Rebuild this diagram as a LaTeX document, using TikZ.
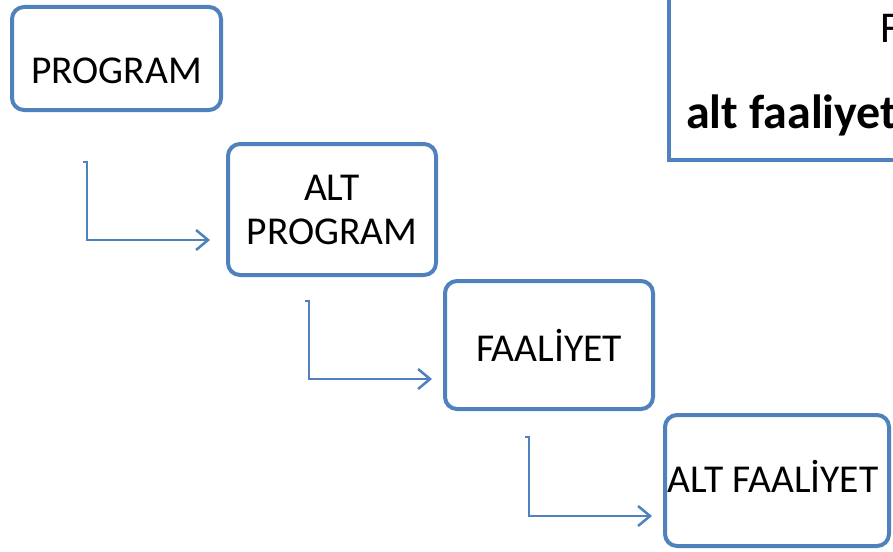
\documentclass[tikz,border=0pt]{standalone}
\usepackage{fontspec}
\setmainfont{Carlito}
\usetikzlibrary{arrows.meta}
\definecolor{boxblue}{RGB}{79,129,189}

\begin{document}
\begin{tikzpicture}[x=1pt, y=-1pt,
	box/.style={draw=boxblue, line width=4pt, rounded corners=12pt, align=center, inner sep=0pt, font=\fontsize{39.5}{44}\selectfont},
	txt/.style={inner sep=0pt, font=\fontsize{39.5}{44}\selectfont},
	link/.style={draw=boxblue, line width=2.5pt, -{Straight Barb[length=12pt,width=20pt]}}]
	
	\useasboundingbox (0,0) rectangle (893,551);
	\clip (0,0) rectangle (893,551);
	
	\node[box, minimum width=209pt, minimum height=103pt] (prog) at (116.5,58.5) {};
	\node[txt] (progtxt) at (116.5,71) {PROGRAM};
	\node[box, minimum width=208pt, minimum height=131pt] (altprog) at (332,209.5) {ALT\\PROGRAM};
	\node[box, minimum width=208pt, minimum height=128pt] (faal) at (549,345) {FAAL\.{I}YET};
	\node[box, minimum width=224pt, minimum height=131pt] (altfaal) at (777,480.5) {};
	\node[txt] (altfaaltxt) at (773,476.5) {ALT FAAL\.{I}YET};
	
	% note box, cut by the page edge
	\draw[draw=boxblue, line width=4pt] (669,-30) rectangle (1100,160);
	\node[inner sep=0pt, anchor=base west, font=\fontsize{44}{50}\selectfont] (notef) at (880,43) {F};
	\node[inner sep=0pt, anchor=base west, font=\fontsize{48}{52}\selectfont\bfseries] (notealt) at (686,128) {alt faaliyet};
	
	\coordinate (s1) at (83,162);
	\coordinate (e1) at (210,240);
	\coordinate (s2) at (305,301);
	\coordinate (e2) at (432,379);
	\coordinate (s3) at (525,437);
	\coordinate (e3) at (652,516);
	
	\draw[link] (s1) -- ++(4,0) |- (e1);
	\draw[link] (s2) -- ++(4,0) |- (e2);
	\draw[link] (s3) -- ++(4,0) |- (e3);
	
\end{tikzpicture}
\end{document}
